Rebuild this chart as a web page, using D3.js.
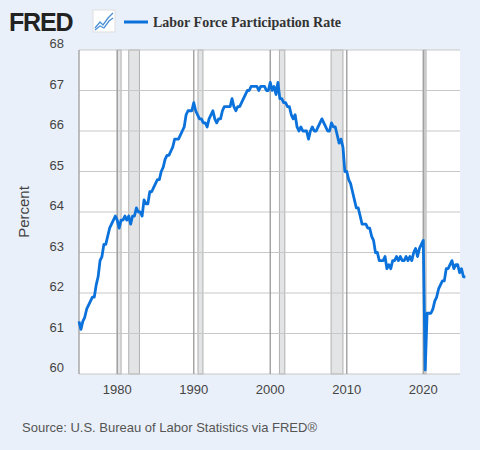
<!DOCTYPE html>
<html><head><meta charset="utf-8">
<script src="https://cdn.jsdelivr.net/npm/d3@7"></script>
<style>body{margin:0;background:#eaf0f9;}svg{display:block;}</style>
</head><body>
<svg id="chart" width="480" height="450"></svg>
<script>
// quarterly observations, decimal year
const startYear = 1975;
const values = [
  61.3,61.1,61.3,61.4, 61.6,61.7,61.8,61.9, 61.9,62.2,62.4,62.8, 62.9,63.2,63.2,63.4, 63.6,63.7,63.8,63.9,
  63.8,63.6,63.8,63.8, 63.9,63.8,63.9,63.7, 63.9,63.9,64.1,64.0, 64.0,63.9,64.3,64.2, 64.2,64.5,64.5,64.6,
  64.7,64.8,64.8,65.0, 65.1,65.3,65.4,65.4, 65.5,65.6,65.8,65.8, 65.8,65.9,66.0,66.1, 66.4,66.5,66.5,66.5,
  66.7,66.5,66.4,66.3, 66.3,66.2,66.2,66.1, 66.3,66.4,66.5,66.3, 66.2,66.3,66.3,66.5, 66.6,66.6,66.6,66.6,
  66.8,66.6,66.5,66.6, 66.6,66.7,66.8,66.9, 67.0,67.0,67.1,67.1, 67.1,67.1,67.0,67.1, 67.1,67.1,67.0,67.0,
  67.2,67.0,67.1,66.9, 67.2,66.8,66.8,66.7, 66.7,66.6,66.6,66.4, 66.3,66.4,66.1,66.0, 66.1,66.0,66.0,66.0,
  65.8,66.0,66.1,66.0, 66.0,66.1,66.2,66.3, 66.2,66.1,66.0,66.0, 66.2,66.1,66.1,65.9, 65.7,65.8,65.6,65.0,
  65.0,64.8,64.7,64.5, 64.3,64.1,64.1,63.9, 63.7,63.7,63.7,63.6, 63.6,63.4,63.3,63.0, 63.0,62.8,62.8,62.8,
  62.9,62.6,62.7,62.6, 62.8,62.8,62.9,62.8, 62.9,62.8,62.8,62.9, 62.8,62.9,62.8,63.0, 63.1,62.9,63.1,63.2,
  63.3,60.1,61.5,61.5, 61.5,61.6,61.8,61.9, 62.1,62.2,62.3,62.3, 62.6,62.6,62.7,62.8, 62.6,62.7,62.7,62.5,
  62.6,62.4,62.4
];
const recessions = [[1980.0,1980.5],[1981.5,1982.9],[1990.55,1991.2],[2001.2,2001.9],[2007.95,2009.5],[2020.1,2020.3]];
const yTicks = [60,61,62,63,64,65,66,67,68];
const xTicks = [1980,1990,2000,2010,2020];

const data = values.map((v,i) => ({t: startYear + i/4, v: v}));

const svg = d3.select('#chart');
const m = {l:79, r:20, t:50, b:76};
const W = 480, H = 450;
const x = d3.scaleLinear().domain([1975, 2024.8]).range([m.l, W-m.r]);
const y = d3.scaleLinear().domain([60, 68]).range([H-m.b, m.t]);

svg.append('rect').attr('x', m.l).attr('y', m.t)
  .attr('width', W-m.r-m.l).attr('height', H-m.b-m.t).attr('fill', '#fff');

// recession bands
svg.selectAll('.rec').data(recessions).join('rect')
  .attr('x', d => x(d[0])).attr('y', m.t)
  .attr('width', d => Math.max(2, x(d[1])-x(d[0]))).attr('height', H-m.b-m.t)
  .attr('fill', '#e3e4e6').attr('stroke', '#b0b0b0').attr('stroke-width', 1);

// grid
svg.selectAll('.hg').data(yTicks).join('line')
  .attr('x1', m.l).attr('x2', W-m.r).attr('y1', d => y(d)).attr('y2', d => y(d))
  .attr('stroke', '#c8c8c8').attr('stroke-width', 1.2);
svg.selectAll('.vg').data(xTicks).join('line')
  .attr('x1', d => x(d)).attr('x2', d => x(d)).attr('y1', m.t).attr('y2', H-m.b)
  .attr('stroke', '#a0a0a0').attr('stroke-width', 1.4);
svg.append('line').attr('x1', m.l).attr('x2', m.l).attr('y1', m.t).attr('y2', H-m.b)
  .attr('stroke', '#a8a8a8').attr('stroke-width', 1.5);

// labels
svg.selectAll('.yl').data(yTicks).join('text')
  .attr('x', 64).attr('y', d => y(d) - 2).attr('text-anchor', 'end')
  .attr('font-family', 'Liberation Sans, Arial, sans-serif').attr('font-size', 13).attr('fill', '#444')
  .text(d => d);
svg.selectAll('.xl').data(xTicks).join('text')
  .attr('x', d => x(d)).attr('y', H-m.b+20).attr('text-anchor', 'middle')
  .attr('font-family', 'Liberation Sans, Arial, sans-serif').attr('font-size', 13).attr('fill', '#444')
  .text(d => d);
svg.append('text').attr('transform', `translate(29,${(m.t+H-m.b)/2}) rotate(-90)`)
  .attr('text-anchor', 'middle').attr('font-family', 'Liberation Sans, Arial, sans-serif')
  .attr('font-size', 15).attr('fill', '#444').text('Percent');

// series
const line = d3.line().x(d => x(d.t)).y(d => y(d.v));
svg.append('path').datum(data).attr('d', line)
  .attr('fill', 'none').attr('stroke', '#0b72dc').attr('stroke-width', 2.8).attr('stroke-linejoin', 'round');

// header
svg.append('text').attr('x', 9).attr('y', 31)
  .attr('font-family', 'Liberation Sans, Arial, sans-serif').attr('font-weight', 'bold')
  .attr('font-size', 25).attr('letter-spacing', -1.2).attr('fill', '#222').text('FRED');
const ic = svg.append('g').attr('transform', 'translate(93,10)');
ic.append('rect').attr('width', 22).attr('height', 22).attr('fill', '#fff').attr('stroke', '#ddd');
ic.append('path').attr('d', 'M2,18 L7,12 L10,15 L15,8 L20,3').attr('fill', 'none').attr('stroke', '#4a90d6').attr('stroke-width', 1.3);
ic.append('path').attr('d', 'M2,20 L7,16 L11,18 L16,11 L20,8').attr('fill', 'none').attr('stroke', '#4a90d6').attr('stroke-width', 1.3);
svg.append('line').attr('x1', 124).attr('x2', 148).attr('y1', 22).attr('y2', 22)
  .attr('stroke', '#0b72dc').attr('stroke-width', 3);
svg.append('text').attr('x', 153).attr('y', 27)
  .attr('font-family', 'Liberation Serif, Times New Roman, serif').attr('font-weight', 'bold')
  .attr('font-size', 14).attr('fill', '#333').text('Labor Force Participation Rate');

svg.append('text').attr('x', 22).attr('y', 432)
  .attr('font-family', 'Liberation Sans, Arial, sans-serif').attr('font-size', 13).attr('fill', '#555')
  .text('Source: U.S. Bureau of Labor Statistics via FRED®');
</script>
</body></html>
